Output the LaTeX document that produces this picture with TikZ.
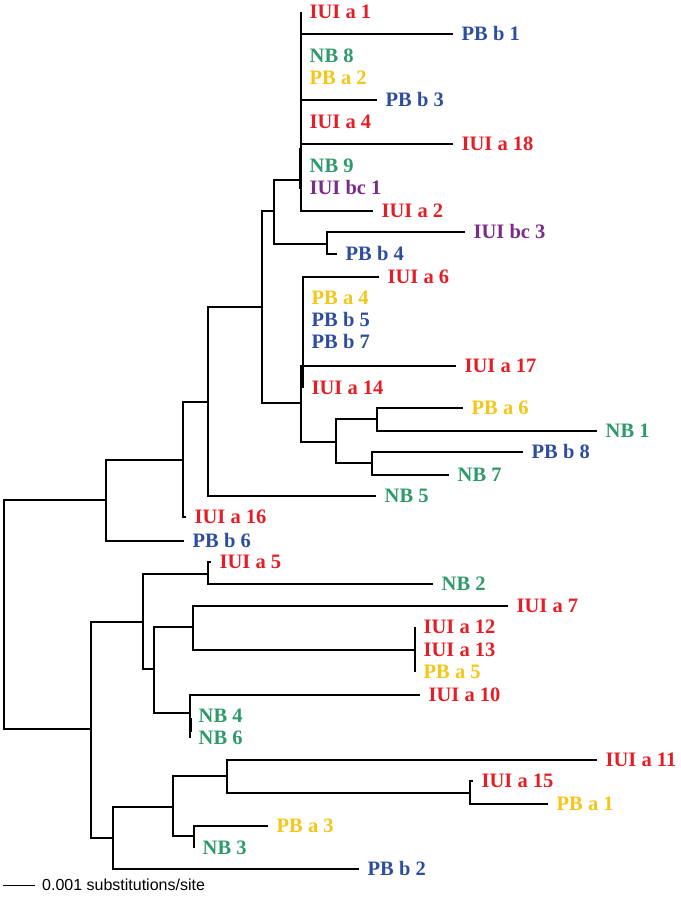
\documentclass[tikz,border=0pt]{standalone}
\usepackage{fontspec}
\usepackage{tikz}
\usepackage{xcolor}
\setmainfont{Liberation Serif}
\newfontfamily\scalefont{Liberation Sans}
\definecolor{iuired}{HTML}{E41E26}
\definecolor{nbgreen}{HTML}{2E9A6A}
\definecolor{pbyellow}{HTML}{F5C518}
\definecolor{pbblue}{HTML}{2E4D9E}
\definecolor{bcpurple}{HTML}{7B2C87}

\begin{document}
\begin{tikzpicture}[x=1pt, y=-1pt,
    br/.style={line width=1.2pt},
    brthick/.style={line width=2.4pt},
    lab/.style={font=\bfseries\fontsize{20.5}{22}\selectfont, anchor=base west,
                inner sep=0.5pt, xshift=8pt, yshift=-6.8pt}]
        \useasboundingbox (0,0) rectangle (680,902);

        % Nodos internos
        \coordinate (root) at (4,614);
        \coordinate (nK) at (106,500);
        \coordinate (nJ) at (183,460);
        \coordinate (nD) at (208,402);
        \coordinate (nC) at (262,307);
        \coordinate (nB) at (274,211);
        \coordinate (nA) at (301,180);
        \coordinate (nAs) at (300,148);
        \coordinate (nBc) at (327,244);
        \coordinate (nE) at (301,403);
        \coordinate (nF) at (303,366);
        \coordinate (nG) at (336,442);
        \coordinate (nH) at (377,419);
        \coordinate (nI) at (372,463);
        \coordinate (nL) at (91,729);
        \coordinate (nM) at (143,622);
        \coordinate (nN) at (208,574);
        \coordinate (nO) at (154,669);
        \coordinate (nP) at (193,627);
        \coordinate (nP2) at (415,650);
        \coordinate (nQ) at (190,713);
        \coordinate (nQs) at (191,718);
        \coordinate (nR) at (113,838);
        \coordinate (nS) at (173,807);
        \coordinate (nT) at (227,776);
        \coordinate (nT2) at (470,793);
        \coordinate (nU) at (194,836);

        % Extremos de las ramas (hojas)
        \coordinate (t0) at (301,12);
        \coordinate (t1) at (453,34);
        \coordinate (t2) at (301,56);
        \coordinate (t3) at (301,78);
        \coordinate (t4) at (377,100);
        \coordinate (t5) at (301,122);
        \coordinate (t6) at (453,144);
        \coordinate (t7) at (301,166);
        \coordinate (t8) at (301,188);
        \coordinate (t9) at (373,211);
        \coordinate (t10) at (465,232);
        \coordinate (t11) at (337,254);
        \coordinate (t12) at (379,277);
        \coordinate (t13) at (303,298);
        \coordinate (t14) at (303,320);
        \coordinate (t15) at (303,342);
        \coordinate (t16) at (456,366);
        \coordinate (t17) at (303,388);
        \coordinate (t18) at (463,408);
        \coordinate (t19) at (597,431);
        \coordinate (t20) at (523,452);
        \coordinate (t21) at (449,475);
        \coordinate (t22) at (376,496);
        \coordinate (t23) at (186,517);
        \coordinate (t24) at (184,541);
        \coordinate (t25) at (211,562);
        \coordinate (t26) at (433,584);
        \coordinate (t27) at (508,606);
        \coordinate (t28) at (415,627);
        \coordinate (t29) at (415,650);
        \coordinate (t30) at (415,672);
        \coordinate (t31) at (420,695);
        \coordinate (t32) at (190,716);
        \coordinate (t33) at (190,738);
        \coordinate (t34) at (597,760);
        \coordinate (t35) at (473,781);
        \coordinate (t36) at (548,804);
        \coordinate (t37) at (268,826);
        \coordinate (t38) at (194,848);
        \coordinate (t39) at (359,869);

        % Etiquetas
        \node[lab, iuired] (l0) at (t0) {IUI a 1};
        \node[lab, pbblue] (l1) at (t1) {PB b 1};
        \node[lab, nbgreen] (l2) at (t2) {NB 8};
        \node[lab, pbyellow] (l3) at (t3) {PB a 2};
        \node[lab, pbblue] (l4) at (t4) {PB b 3};
        \node[lab, iuired] (l5) at (t5) {IUI a 4};
        \node[lab, iuired] (l6) at (t6) {IUI a 18};
        \node[lab, nbgreen] (l7) at (t7) {NB 9};
        \node[lab, bcpurple] (l8) at (t8) {IUI bc 1};
        \node[lab, iuired] (l9) at (t9) {IUI a 2};
        \node[lab, bcpurple] (l10) at (t10) {IUI bc 3};
        \node[lab, pbblue] (l11) at (t11) {PB b 4};
        \node[lab, iuired] (l12) at (t12) {IUI a 6};
        \node[lab, pbyellow] (l13) at (t13) {PB a 4};
        \node[lab, pbblue] (l14) at (t14) {PB b 5};
        \node[lab, pbblue] (l15) at (t15) {PB b 7};
        \node[lab, iuired] (l16) at (t16) {IUI a 17};
        \node[lab, iuired] (l17) at (t17) {IUI a 14};
        \node[lab, pbyellow] (l18) at (t18) {PB a 6};
        \node[lab, nbgreen] (l19) at (t19) {NB 1};
        \node[lab, pbblue] (l20) at (t20) {PB b 8};
        \node[lab, nbgreen] (l21) at (t21) {NB 7};
        \node[lab, nbgreen] (l22) at (t22) {NB 5};
        \node[lab, iuired] (l23) at (t23) {IUI a 16};
        \node[lab, pbblue] (l24) at (t24) {PB b 6};
        \node[lab, iuired] (l25) at (t25) {IUI a 5};
        \node[lab, nbgreen] (l26) at (t26) {NB 2};
        \node[lab, iuired] (l27) at (t27) {IUI a 7};
        \node[lab, iuired] (l28) at (t28) {IUI a 12};
        \node[lab, iuired] (l29) at (t29) {IUI a 13};
        \node[lab, pbyellow] (l30) at (t30) {PB a 5};
        \node[lab, iuired] (l31) at (t31) {IUI a 10};
        \node[lab, nbgreen] (l32) at (t32) {NB 4};
        \node[lab, nbgreen] (l33) at (t33) {NB 6};
        \node[lab, iuired] (l34) at (t34) {IUI a 11};
        \node[lab, iuired] (l35) at (t35) {IUI a 15};
        \node[lab, pbyellow] (l36) at (t36) {PB a 1};
        \node[lab, pbyellow] (l37) at (t37) {PB a 3};
        \node[lab, nbgreen] (l38) at (t38) {NB 3};
        \node[lab, pbblue] (l39) at (t39) {PB b 2};

        % Ramas del clado superior
        \draw[br] (root) |- (nK);
        \draw[br] (root) |- (nL);
        \draw[br] (nK) |- (nJ);
        \draw[br] (nK) |- (t24);
        \draw[br] (nJ) |- (nD);
        \draw[br] (nJ) |- (t23);
        \draw[br] (nD) |- (nC);
        \draw[br] (nD) |- (t22);
        \draw[br] (nC) |- (nB);
        \draw[br] (nC) |- (nE);
        \draw[br] (nB) |- (nA);
        \draw[br] (nB) |- (nBc);
        \draw[br] (nA) |- (t0);
        \draw[br] (nA) |- (t1);
        \draw[br] (nA) |- (t2);
        \draw[br] (nA) |- (t3);
        \draw[br] (nA) |- (t4);
        \draw[br] (nA) |- (t5);
        \draw[br] (nA) |- (t6);
        \draw[br] (nA) |- (t7);
        \draw[br] (nA) |- (t8);
        \draw[br] (nA) |- (t9);
        \draw[brthick] (nAs) -- ++(0,41);
        \draw[br] (nBc) |- (t10);
        \draw[br] (nBc) |- (t11);
        \draw[br] (nE) |- (nF);
        \draw[br] (nE) |- (nG);
        \draw[br] (nF) |- (t12);
        \draw[br] (nF) |- (t13);
        \draw[br] (nF) |- (t14);
        \draw[br] (nF) |- (t15);
        \draw[br] (nF) |- (t16);
        \draw[br] (nF) |- (t17);
        \draw[br] (nG) |- (nH);
        \draw[br] (nG) |- (nI);
        \draw[br] (nH) |- (t18);
        \draw[br] (nH) |- (t19);
        \draw[br] (nI) |- (t20);
        \draw[br] (nI) |- (t21);

        % Ramas del clado inferior
        \draw[br] (nL) |- (nM);
        \draw[br] (nL) |- (nR);
        \draw[br] (nM) |- (nN);
        \draw[br] (nM) |- (nO);
        \draw[br] (nN) |- (t25);
        \draw[br] (nN) |- (t26);
        \draw[br] (nO) |- (nP);
        \draw[br] (nO) |- (nQ);
        \draw[br] (nP) |- (t27);
        \draw[br] (nP) |- (nP2);
        \draw[br] (nP2) |- (t28);
        \draw[br] (nP2) |- (t29);
        \draw[br] (nP2) |- (t30);
        \draw[br] (nQ) |- (t31);
        \draw[br] (nQ) |- (t32);
        \draw[br] (nQ) |- (t33);
        \draw[brthick] (nQs) -- ++(0,14);
        \draw[br] (nR) |- (nS);
        \draw[br] (nR) |- (t39);
        \draw[br] (nS) |- (nT);
        \draw[br] (nS) |- (nU);
        \draw[br] (nT) |- (t34);
        \draw[br] (nT) |- (nT2);
        \draw[br] (nT2) |- (t35);
        \draw[br] (nT2) |- (t36);
        \draw[br] (nU) |- (t37);
        \draw[br] (nU) |- (t38);

        % Escala
        \coordinate (sb1) at (3,885);
        \coordinate (sb2) at (35,885);
        \draw[line width=1pt] (sb1) -- (sb2);
        \node[anchor=west, inner sep=0pt, xshift=7pt, font=\scalefont\fontsize{16}{18}\selectfont] (scale_text) at (sb2) {0.001 substitutions/site};
    \end{tikzpicture}
\end{document}
